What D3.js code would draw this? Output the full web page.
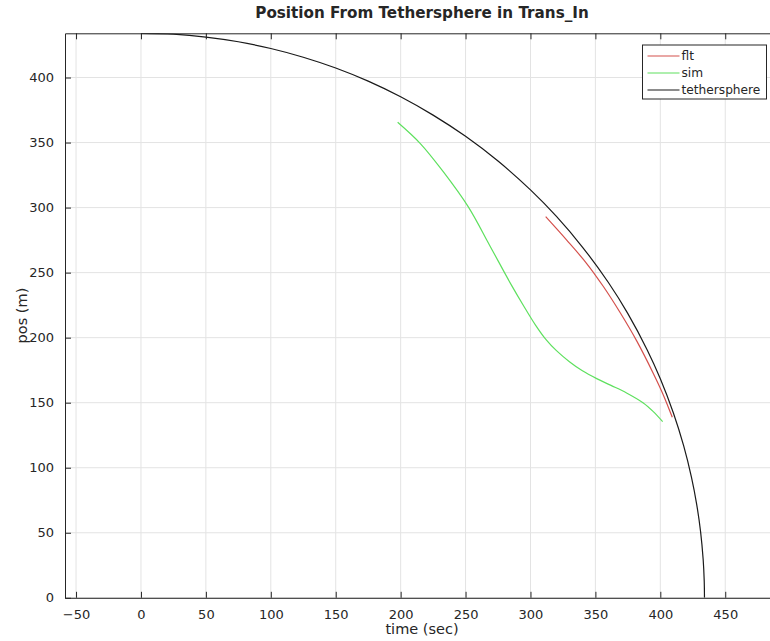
<!DOCTYPE html>
<html>
<head>
<meta charset="utf-8">
<script src="https://cdn.jsdelivr.net/npm/d3@7"></script>
<style>
  html, body { margin: 0; padding: 0; background: #fff; }
  svg { display: block; }
  text { font-family: "DejaVu Sans", sans-serif; fill: #262626; }
</style>
</head>
<body>
<svg id="chart" width="770" height="641"></svg>
<script>
// Tethersphere boundary (time, position)
const tetherT = [0, 25, 50, 75, 100, 125, 150, 175, 200, 225, 250, 275, 300, 320, 340, 360, 375, 390, 400, 410, 418, 424, 428, 431, 433, 433.8, 434];
const tetherP = [434, 433.3, 431.1, 427.5, 422.3, 415.6, 407.3, 397.2, 385.2, 371.1, 354.8, 335.8, 313.6, 293.2, 269.7, 242.4, 218.5, 190.4, 168.4, 142.3, 116.8, 92.6, 71.9, 50.9, 29.4, 13.2, 0];

// Flight data
const fltT = [311.7, 327.9, 343.3, 356, 368.9, 381.8, 394.6, 402.3, 409.2];
const fltP = [293, 275, 257, 239.5, 219.5, 197.5, 172.5, 156, 138.8];

// Simulation
const simT = [197.7, 215, 232.8, 252, 268.8, 285, 295, 304, 312, 320, 330, 340, 351, 362, 374, 386.9, 394.6, 401.8];
const simP = [365.6, 349.4, 327.6, 300.7, 270.5, 241, 224, 209.5, 198.5, 190, 181.5, 174.5, 168.5, 163.3, 157.5, 149.8, 143.1, 135.4];

const xTicks = [-50, 0, 50, 100, 150, 200, 250, 300, 350, 400, 450];
const yTicks = [0, 50, 100, 150, 200, 250, 300, 350, 400];

const seriesNames = ["flt", "sim", "tethersphere"];
const seriesColors = ["#d4504c", "#5ee05e", "#1a1a1a"];

const svg = d3.select("#chart");
const plotL = 65, plotR = 779, plotT = 33.3, plotB = 597.8;

const x = d3.scaleLinear().domain([-58.5, 491.4]).range([plotL, plotR]);
const y = d3.scaleLinear().domain([0, 434]).range([plotB, plotT]);

svg.append("clipPath").attr("id", "plotclip")
  .append("rect").attr("x", plotL).attr("y", plotT)
  .attr("width", plotR - plotL).attr("height", plotB - plotT);

// Grid
const grid = svg.append("g");
grid.selectAll("line.gx").data(xTicks).join("line")
  .attr("x1", d => x(d)).attr("x2", d => x(d))
  .attr("y1", plotT).attr("y2", plotB)
  .attr("stroke", "#e3e3e3").attr("stroke-width", 1);
grid.selectAll("line.gy").data(yTicks).join("line")
  .attr("x1", plotL).attr("x2", plotR)
  .attr("y1", d => y(d)).attr("y2", d => y(d))
  .attr("stroke", "#e3e3e3").attr("stroke-width", 1);

// Curves
const smooth = d3.line().x(d => x(d[0])).y(d => y(d[1])).curve(d3.curveCatmullRom.alpha(0.5));
const plot = svg.append("g").attr("clip-path", "url(#plotclip)");
const seriesData = [
  d3.zip(fltT, fltP),
  d3.zip(simT, simP),
  d3.zip(tetherT, tetherP)
];
seriesData.forEach((pts, i) => {
  plot.append("path").datum(pts)
    .attr("d", smooth)
    .attr("fill", "none")
    .attr("stroke", seriesColors[i])
    .attr("stroke-width", 1.2);
});

// Axes (ticks point inward)
const tickLen = 6;
const xAxis = svg.append("g").attr("transform", `translate(0,${plotB})`)
  .call(d3.axisBottom(x).tickValues(xTicks).tickSize(-tickLen).tickPadding(tickLen + 6).tickSizeOuter(0));
const xAxisTop = svg.append("g").attr("transform", `translate(0,${plotT})`)
  .call(d3.axisTop(x).tickValues(xTicks).tickSize(-tickLen).tickFormat("").tickSizeOuter(0));
const yAxis = svg.append("g").attr("transform", `translate(${plotL},0)`)
  .call(d3.axisLeft(y).tickValues(yTicks).tickSize(-tickLen).tickPadding(tickLen + 5).tickSizeOuter(0));

[xAxis, xAxisTop, yAxis].forEach(g => {
  g.select(".domain").attr("stroke", "#262626").attr("stroke-width", 1);
  g.selectAll(".tick line").attr("stroke", "#262626").attr("stroke-width", 1);
  g.selectAll(".tick text").attr("font-size", 13).attr("fill", "#4d4d4d")
    .attr("font-family", "DejaVu Sans, sans-serif");
});

// Title and axis labels
const cx = (plotL + plotR) / 2;
svg.append("text").attr("x", cx).attr("y", 18)
  .attr("text-anchor", "middle").attr("font-size", 15.2).attr("font-weight", "bold")
  .attr("fill", "#000")
  .text("Position From Tethersphere in Trans_In");
svg.append("text").attr("x", cx).attr("y", 634)
  .attr("text-anchor", "middle").attr("font-size", 14.5)
  .text("time (sec)");
svg.append("text")
  .attr("transform", `translate(27,${(plotT + plotB) / 2}) rotate(-90)`)
  .attr("text-anchor", "middle").attr("font-size", 14.5)
  .text("pos (m)");

// Legend
const lg = svg.append("g").attr("transform", "translate(642.5,45)");
lg.append("rect").attr("width", 124).attr("height", 54)
  .attr("fill", "#fff").attr("stroke", "#262626").attr("stroke-width", 1);
seriesNames.forEach((name, i) => {
  const yy = 11 + i * 17;
  lg.append("line").attr("x1", 5).attr("x2", 37).attr("y1", yy).attr("y2", yy)
    .attr("stroke", seriesColors[i]).attr("stroke-width", 1.2);
  lg.append("text").attr("x", 39).attr("y", yy).attr("dy", "0.35em")
    .attr("font-size", 12.2).text(name);
});
</script>
</body>
</html>
